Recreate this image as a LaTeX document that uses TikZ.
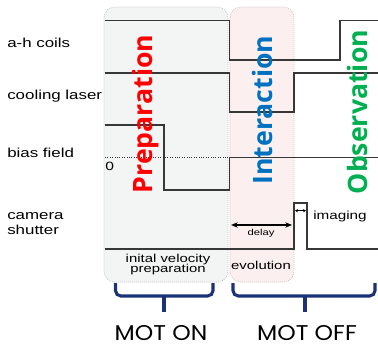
\documentclass[tikz,border=0pt]{standalone}
\usepackage{fontspec}
\setmainfont{Liberation Sans}
\newfontfamily\labelfont{Liberation Sans}[FakeStretch=1.3]
\newfontfamily\stagefont{Open Sans}
\newfontfamily\motfont{Poppins}[FakeStretch=1.1]
\newcommand\tightlines{\lineskiplimit=-6pt\relax}
\usepackage{tikz}
\usetikzlibrary{arrows.meta}

\definecolor{prepred}{RGB}{255,0,0}
\definecolor{interblue}{RGB}{0,112,192}
\definecolor{obsgreen}{RGB}{0,176,80}
\definecolor{bracenavy}{RGB}{28,50,120}
\definecolor{signalgray}{RGB}{55,55,55}
\definecolor{prepfill}{RGB}{243,245,244}
\definecolor{interfill}{RGB}{252,239,239}

\begin{document}
\begin{tikzpicture}[x=0.75pt, y=-0.75pt,
    phase/.style={draw=gray!60, densely dotted, line width=0.5pt, rounded corners=8pt},
    sig/.style={draw=signalgray, line width=1.1pt},
    lbl/.style={anchor=base west, inner sep=0pt, align=left,
                font=\labelfont\fontsize{9.75}{12}\selectfont},
    note/.style={anchor=base, inner sep=0pt, align=center,
                 font=\labelfont\fontsize{8.6}{7.5}\selectfont\tightlines},
    stage/.style={rotate=90, anchor=base, inner sep=0pt,
                  font=\stagefont\bfseries\fontsize{20}{24}\selectfont},
    brace/.style={draw=bracenavy, line width=2.3pt, rounded corners=4pt},
    mot/.style={anchor=base, inner sep=0pt, text depth=0pt,
                font=\motfont\fontsize{16}{19}\selectfont},
    dbl/.style={{Stealth[length=5pt, width=4pt]}-{Stealth[length=5pt, width=4pt]}, line width=0.8pt},
    tiny/.style={{Stealth[length=2.2pt, width=2.4pt]}-{Stealth[length=2.2pt, width=2.4pt]}, line width=0.5pt}
  ]
  \useasboundingbox (0,0) rectangle (378,345);

  %% ── phase backgrounds ──────────────────────────────────────────────
  \draw[phase, fill=prepfill]  (104,7) rectangle (228,282);
  \draw[phase, fill=interfill] (230,7) rectangle (294,282);

  %% ── channel names (left) ───────────────────────────────────────────
  \node[lbl] (coils)   at (7,47.7)  {a-h coils};
  \node[lbl] (laser)   at (7,99.3)  {cooling laser};
  \node[lbl] (bias)    at (7,157.3) {bias field};
  \node[lbl] (camera)  at (7,235)   {camera\\shutter};

  %% ── timing traces ──────────────────────────────────────────────────
  \draw[sig] (105,20.5) -- (229.5,20.5) -- (229.5,60) -- (340,60) -- (340,20.5) -- (378,20.5);
  \draw[sig] (105,73) -- (229.5,73) -- (229.5,112) -- (294,112) -- (294,73) -- (378,73);
  \draw[sig] (105,125) -- (164,125) -- (164,190) -- (229.5,190) -- (229.5,157.5) -- (378,157.5);
  \draw[signalgray, densely dotted, line width=0.8pt] (105,157.5) -- (229.5,157.5);
  \node[anchor=base west, inner sep=0pt, font=\labelfont\fontsize{9}{10}\selectfont]
                   (zero) at (105,171) {0};
  \draw[sig] (105,249) -- (294,249) -- (294,203) -- (307,203) -- (307,249) -- (378,249);

  %% ── delay / imaging markers ────────────────────────────────────────
  \coordinate (dl) at (231,225);
  \coordinate (dr) at (292,225);
  \draw[dbl] (dl) -- (dr);
  \node[note, font=\labelfont\fontsize{6.5}{7}\selectfont] (delay) at (261,236) {delay};
  \coordinate (il) at (295,210.7);
  \coordinate (ir) at (306,210.7);
  \draw[tiny] (il) -- (ir);
  \node[lbl, font=\labelfont\fontsize{8.8}{10}\selectfont] (imaging) at (313,220) {imaging};

  %% ── phase names (vertical) ─────────────────────────────────────────
  \node[stage, text=prepred]  (prep)  at (152,114) {Preparation};
  \node[stage, text=interblue](inter) at (272,110) {Interaction};
  \node[stage, text=obsgreen] (obs)   at (367,112) {Observation};

  %% ── phase captions ─────────────────────────────────────────────────
  \node[note] (velocity)  at (168,272.7) {inital velocity\\preparation};
  \node[note] (evolution) at (261,269.3) {evolution};

  %% ── MOT brackets ───────────────────────────────────────────────────
  \draw[brace] (115.5,283) -- (115.5,296) -- (213,296) -- (213,283);
  \draw[brace] (164,296) -- (164,312);
  \draw[brace] (233,283) -- (233,296) -- (375,296) -- (375,283);
  \draw[brace] (305,296) -- (305,312);
  \node[mot] (moton)  at (161,340) {MOT ON};
  \node[mot] (motoff) at (307,340) {MOT OFF};

\end{tikzpicture}
\end{document}
